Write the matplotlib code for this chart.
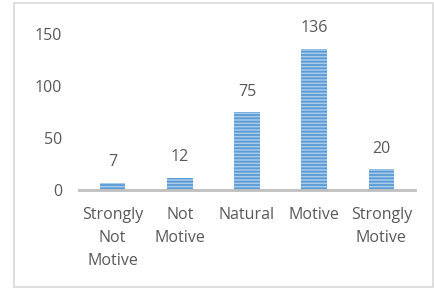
import matplotlib.pyplot as plt
from matplotlib.patches import Rectangle

categories = ["Strongly\nNot\nMotive", "Not\nMotive", "Natural", "Motive", "Strongly\nMotive"]
values = [7, 12, 75, 136, 20]
yticks = [0, 50, 100, 150]

text_color = "#595959"
plt.rcParams["font.family"] = ["Open Sans", "DejaVu Sans"]
plt.rcParams["hatch.linewidth"] = 1.3

fig = plt.figure(figsize=(4.35, 2.89), dpi=100)
# outer chart frame
fig.patches.append(Rectangle((14 / 435, 2 / 289), 419 / 435, 284 / 289,
                             transform=fig.transFigure, fill=False,
                             edgecolor="#D9D9D9", linewidth=1.2))

ax = fig.add_axes([79 / 435, 1 - 190 / 289, 336 / 435, 166 / 289])
x = range(len(categories))
bars = ax.bar(x, values, width=0.38, color="#A9CBEA", edgecolor="#5B9BD5",
              hatch="-----", linewidth=0)

for xi, v in zip(x, values):
    ax.annotate(str(v), (xi, v), xytext=(0, 9), textcoords="offset points",
                ha="center", va="bottom", fontsize=11.5, color=text_color)

ax.set_xlim(-0.5, len(categories) - 0.5)
ax.set_ylim(0, 160)
ax.set_yticks(yticks)
ax.set_yticklabels([str(t) for t in yticks], fontsize=11.5, color=text_color)
ax.set_xticks(list(x))
ax.set_xticklabels(categories, fontsize=11.5, color=text_color, linespacing=1.6)
ax.tick_params(axis="both", length=0)
ax.tick_params(axis="y", pad=12)
ax.tick_params(axis="x", pad=12)
for s in ["top", "right", "left"]:
    ax.spines[s].set_visible(False)
ax.spines["bottom"].set_color("#BFBFBF")
ax.spines["bottom"].set_linewidth(2)

plt.savefig("out.png", dpi=100)
